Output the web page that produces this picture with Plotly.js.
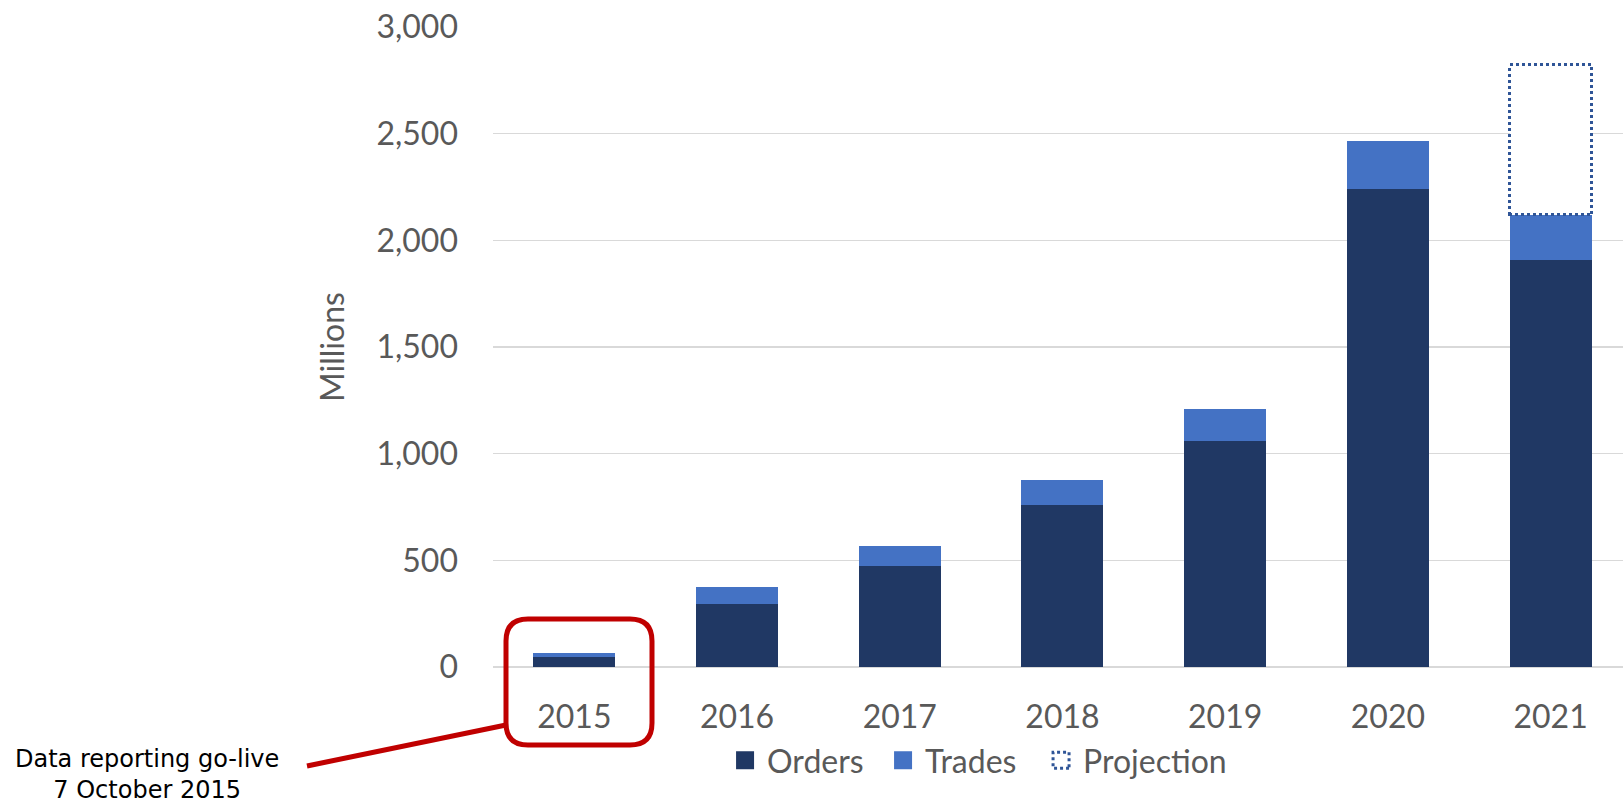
<!DOCTYPE html>
<html><head><meta charset="utf-8">
<script src="https://cdn.plot.ly/plotly-3.0.1.min.js"></script>
<style>html,body{margin:0;padding:0;background:#fff;} #chart{width:1623px;height:803px;}</style>
</head><body><div id="chart"></div>
<script>
// ---- data ----
const years = ['2015','2016','2017','2018','2019','2020','2021'];
const orders = [48, 295, 474, 760, 1060, 2242, 1906];
const trades = [19, 80, 92, 116, 151, 223, 213];
const projectedTotal = [null, null, null, null, null, null, 2822];
const seriesNames = ['Orders', 'Trades', 'Projection'];
const yTitle = 'Millions';
const noteLines = ['Data reporting go-live', '7 October 2015'];

const projection = projectedTotal.map((t, i) => t == null ? null : t - orders[i] - trades[i]);

// ---- geometry helpers (pixels -> paper) ----
const W = 1623, H = 803, L = 493, R = 0, T = 27, B = 136;
const pw = W - L - R, ph = H - T - B;
const px = x => (x - L) / pw;
const py = y => (T + ph - y) / ph;

function roundRect(l, t, r, b, rad) {
  const P = (x, y) => px(x) + ',' + py(y);
  return 'M' + P(l + rad, t) + ' L' + P(r - rad, t) + ' Q' + P(r, t) + ' ' + P(r, t + rad) +
    ' L' + P(r, b - rad) + ' Q' + P(r, b) + ' ' + P(r - rad, b) +
    ' L' + P(l + rad, b) + ' Q' + P(l, b) + ' ' + P(l, b - rad) +
    ' L' + P(l, t + rad) + ' Q' + P(l, t) + ' ' + P(l + rad, t) + ' Z';
}

const GREY = '#595959';
const traces = [
  {type: 'bar', name: seriesNames[0], x: years, y: orders, marker: {color: '#203864', line: {width: 0}}, hoverinfo: 'skip'},
  {type: 'bar', name: seriesNames[1], x: years, y: trades, marker: {color: '#4472C4', line: {width: 0}}, hoverinfo: 'skip'},
  {type: 'bar', name: seriesNames[2], x: years, y: projection, marker: {color: '#ffffff', line: {color: '#2F5597', width: 3}}, hoverinfo: 'skip'}
];

const layout = {
  width: W, height: H,
  margin: {l: L, r: R, t: T, b: B, pad: 0},
  paper_bgcolor: '#ffffff', plot_bgcolor: '#ffffff',
  barmode: 'stack', bargap: 0.496,
  font: {family: 'Lato, sans-serif', size: 32, color: GREY},
  showlegend: true,
  xaxis: {type: 'category', range: [-0.5, 6.445], showgrid: false, zeroline: false, showline: false,
    ticks: '', tickfont: {family: 'Lato, sans-serif', size: 32, color: GREY}, ticklabelstandoff: 28, fixedrange: true},
  yaxis: {range: [0, 3000], dtick: 500, tick0: 0, tickformat: ',d', showgrid: true, gridcolor: '#d9d9d9', gridwidth: 1.3,
    zeroline: true, zerolinecolor: '#d9d9d9', zerolinewidth: 1.3, showline: false, ticks: '',
    tickfont: {family: 'Lato, sans-serif', size: 32, color: GREY}, ticklabelstandoff: 34, fixedrange: true,
    title: {text: yTitle, font: {family: 'Lato, sans-serif', size: 32, color: GREY}, standoff: 22}},
  legend: {orientation: 'h', xref: 'container', yref: 'container', x: 0.594, xanchor: 'center', y: 0.053, yanchor: 'middle',
    font: {family: 'Lato, sans-serif', size: 32, color: GREY}, traceorder: 'normal', bgcolor: 'rgba(0,0,0,0)', entrywidth: 113},
  shapes: [
    {type: 'path', xref: 'paper', yref: 'paper', path: roundRect(506, 619, 652, 745, 22), line: {color: '#C00000', width: 5}, fillcolor: 'rgba(0,0,0,0)', layer: 'above'},
    {type: 'line', xref: 'paper', yref: 'paper', x0: px(307), y0: py(766), x1: px(506), y1: py(725), line: {color: '#C00000', width: 5}, layer: 'above'}
  ],
  annotations: [
    {xref: 'paper', yref: 'paper', x: px(146.5), y: py(774), xanchor: 'center', yanchor: 'middle', showarrow: false,
      text: noteLines.join('<br>'), align: 'center', font: {family: 'DejaVu Sans, sans-serif', size: 24, color: '#000000'}}
  ]
};

function decorate() {
  const gd = document.getElementById('chart');
  const barTraces = gd.querySelectorAll('.barlayer g.trace');
  if (barTraces[2]) {
    barTraces[2].querySelectorAll('path').forEach(p => { p.style.strokeDasharray = '3,3'; });
  }
  gd.querySelectorAll('.legend .scrollbox, .legend').forEach(g => g.removeAttribute('clip-path'));
  const items = gd.querySelectorAll('.legend g.traces');
  items.forEach((it, i) => {
    it.querySelectorAll('.legendpoints path').forEach(p => {
      p.setAttribute('d', 'M9,9H-9V-9H9Z');
      p.setAttribute('transform', 'translate(18,0)');
      if (i === 2) {
        p.setAttribute('d', 'M8,8H-8V-8H8Z');
        p.style.strokeDasharray = '3,3';
        p.style.strokeWidth = '3px';
        p.style.stroke = '#2F5597';
        p.style.fill = '#ffffff';
      }
    });
  });
}

const gd = document.getElementById('chart');
Plotly.newPlot(gd, traces, layout, {displayModeBar: false, staticPlot: true}).then(() => {
  decorate();
  gd.on('plotly_afterplot', decorate);
});
</script>
</body></html>
